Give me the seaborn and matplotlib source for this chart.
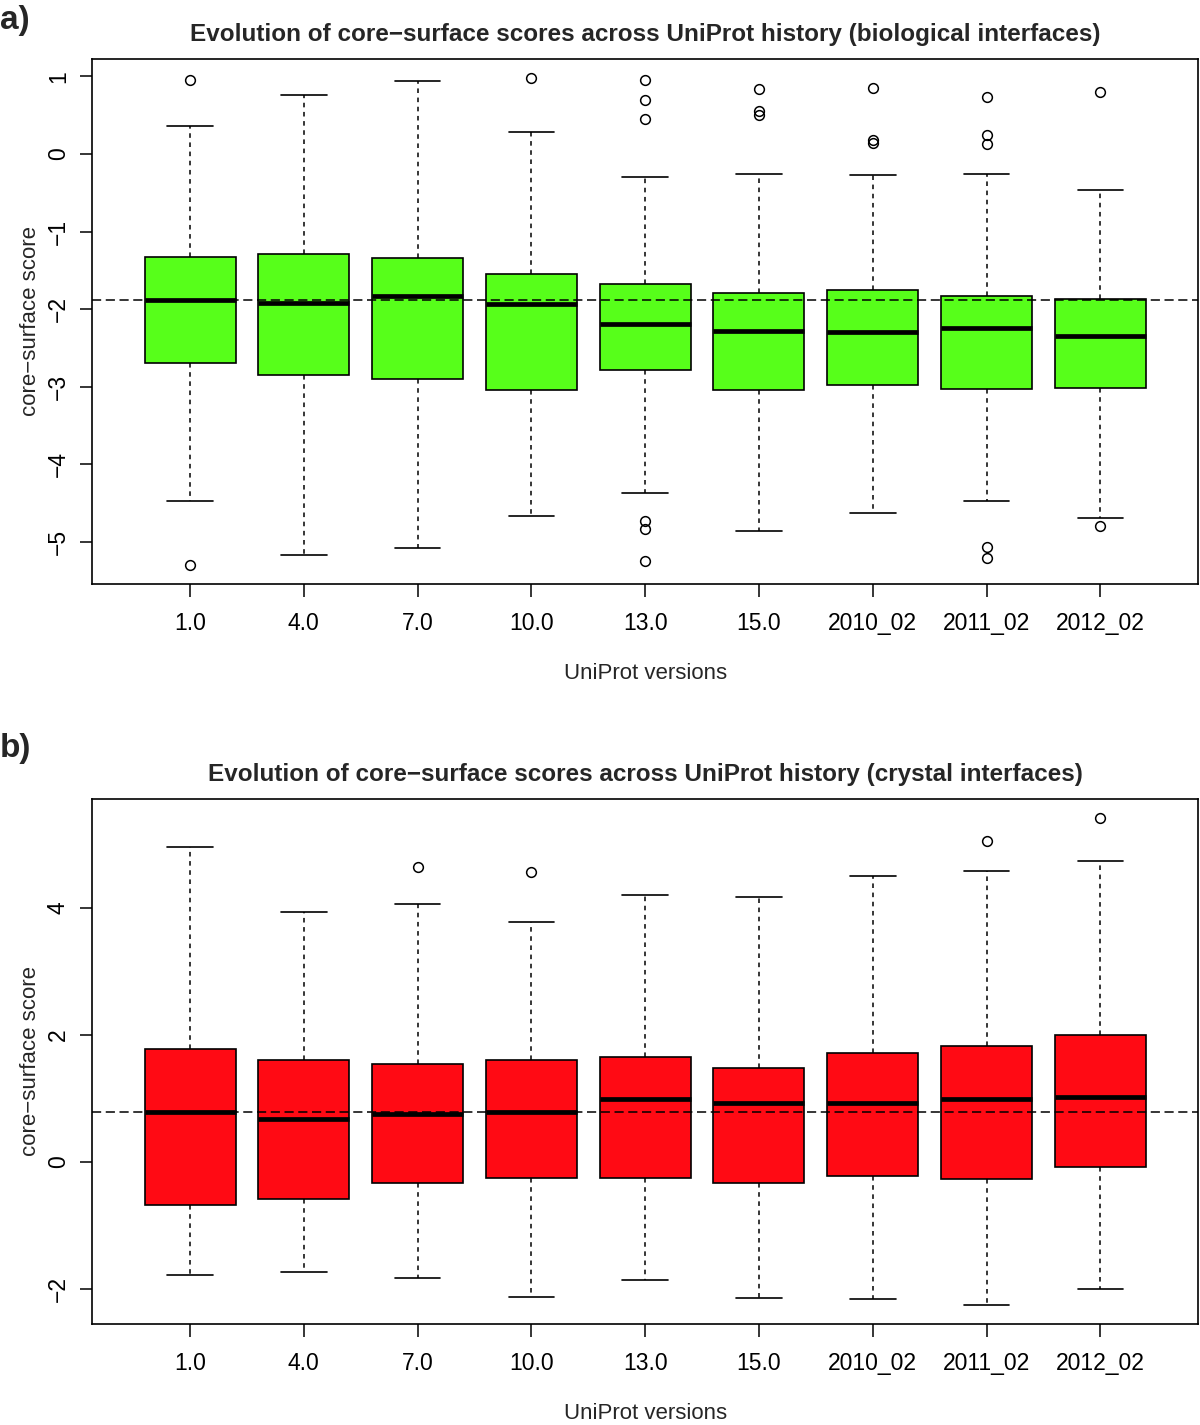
import numpy as np
import seaborn as sns
import matplotlib.pyplot as plt

versions = ["1.0", "4.0", "7.0", "10.0", "13.0", "15.0", "2010_02", "2011_02", "2012_02"]

# biological interfaces (panel a)
bio_whislo = [-4.47, -5.165, -5.075, -4.659, -4.363, -4.852, -4.624, -4.474, -4.689]
bio_q1 = [-2.69, -2.848, -2.904, -3.037, -2.78, -3.045, -2.977, -3.024, -3.012]
bio_med = [-1.879, -1.921, -1.835, -1.934, -2.196, -2.278, -2.299, -2.239, -2.342]
bio_q3 = [-1.333, -1.282, -1.338, -1.548, -1.677, -1.793, -1.75, -1.835, -1.874]
bio_whishi = [0.356, 0.764, 0.945, 0.283, -0.296, -0.253, -0.27, -0.261, -0.467]
bio_fliers = [[0.96, -5.29], [], [], [0.974],
              [0.957, 0.695, 0.456, -4.727, -4.826, -5.246],
              [0.837, 0.55, 0.498], [0.846, 0.185, 0.147],
              [0.734, 0.241, 0.125, -5.066, -5.212], [0.794, -4.796]]

# crystal interfaces (panel b)
cry_whislo = [-1.77, -1.733, -1.817, -2.121, -1.854, -2.132, -2.157, -2.242, -2.0]
cry_q1 = [-0.67, -0.586, -0.325, -0.246, -0.246, -0.325, -0.215, -0.272, -0.073]
cry_med = [0.78, 0.68, 0.759, 0.78, 0.985, 0.927, 0.932, 0.99, 1.016]
cry_q3 = [1.77, 1.598, 1.535, 1.603, 1.655, 1.482, 1.707, 1.822, 1.995]
cry_whishi = [4.944, 3.923, 4.058, 3.776, 4.195, 4.158, 4.493, 4.572, 4.734]
cry_fliers = [[], [], [4.635], [4.556], [], [], [], [5.048], [5.404]]

sns.set_theme(style="white")
plt.rcParams['font.family'] = ['Liberation Sans', 'DejaVu Sans']


def make_stats(whislo, q1, med, q3, whishi, fliers):
    return [dict(whislo=a, q1=b, med=c, q3=d, whishi=e, fliers=f, label=v)
            for a, b, c, d, e, f, v in zip(whislo, q1, med, q3, whishi, fliers, versions)]


def draw(ax, stats, color, title, yticks):
    pos = np.arange(1, len(stats) + 1)
    ax.bxp(stats, positions=pos, widths=0.8, capwidths=0.4, patch_artist=True,
           boxprops=dict(facecolor=color, edgecolor="black", linewidth=1.2),
           medianprops=dict(color="black", linewidth=3.4, solid_capstyle="butt"),
           whiskerprops=dict(color="black", linestyle=(0, (3, 3)), linewidth=1.1),
           capprops=dict(color="black", linewidth=1.2),
           flierprops=dict(marker="o", markerfacecolor="none", markeredgecolor="black",
                           markersize=7, markeredgewidth=1.1, linestyle="none"))
    ax.axhline(stats[0]["med"], color="black", linestyle=(0, (6, 3)), linewidth=1.1, zorder=3)

    allv = [s[k] for s in stats for k in ("whislo", "whishi")] + [f for s in stats for f in s["fliers"]]
    lo, hi = min(allv), max(allv)
    ext = (hi - lo) * 0.04
    ax.set_ylim(lo - ext, hi + ext)
    ax.set_xlim(0.5 - 0.36, len(stats) + 0.5 + 0.36)
    ax.set_xticks(pos)
    ax.set_xticklabels(versions)
    ax.set_yticks(yticks)
    ax.tick_params(axis="both", which="major", direction="out", length=9, width=1.1,
                   color="black", labelsize=16.5, labelcolor="black", left=True, bottom=True)
    ax.tick_params(axis="x", pad=11)
    ax.tick_params(axis="y", pad=7)
    for lab in ax.get_yticklabels():
        lab.set_rotation(90)
        lab.set_va("center")
    for sp in ax.spines.values():
        sp.set_visible(True)
        sp.set_color("black")
        sp.set_linewidth(1.2)
    ax.set_title(title, fontsize=17.5, fontweight="bold", pad=13)
    ax.set_xlabel("UniProt versions", fontsize=16)
    ax.set_ylabel("core\u2212surface score", fontsize=16)
    ax.xaxis.set_label_coords(0.5, -0.15)
    ax.yaxis.set_label_coords(-0.046, 0.5)


fig = plt.figure(figsize=(12, 14.25), dpi=100)
ax1 = fig.add_axes([0.0768, 0.5902, 0.9217, 0.3684])
ax2 = fig.add_axes([0.0768, 0.0707, 0.9217, 0.3688])

draw(ax1, make_stats(bio_whislo, bio_q1, bio_med, bio_q3, bio_whishi, bio_fliers),
     "#57ff1a", "Evolution of core\u2212surface scores across UniProt history (biological interfaces)",
     [-5, -4, -3, -2, -1, 0, 1])
draw(ax2, make_stats(cry_whislo, cry_q1, cry_med, cry_q3, cry_whishi, cry_fliers),
     "#ff0a14", "Evolution of core\u2212surface scores across UniProt history (crystal interfaces)",
     [-2, 0, 2, 4])

fig.text(0.0, 1 - 20 / 1425, "a)", fontsize=24, fontweight="bold", va="center", ha="left")
fig.text(0.0, 1 - 748 / 1425, "b)", fontsize=24, fontweight="bold", va="center", ha="left")

fig.savefig("out.png", dpi=100)
